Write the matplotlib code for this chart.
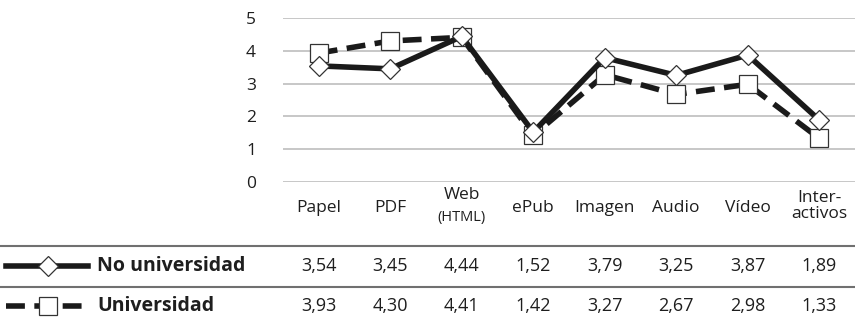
import matplotlib.pyplot as plt
from matplotlib.lines import Line2D
import numpy as np

categorias = ["Papel", "PDF", "Web", "ePub", "Imagen", "Audio", "Vídeo", "Inter-\nactivos"]
no_universidad = [3.54, 3.45, 4.44, 1.52, 3.79, 3.25, 3.87, 1.89]
universidad = [3.93, 4.30, 4.41, 1.42, 3.27, 2.67, 2.98, 1.33]
series = ["No universidad", "Universidad"]

plt.rcParams['font.family'] = ['Open Sans', 'DejaVu Sans']
W, H = 855, 321
fig = plt.figure(figsize=(W / 100, H / 100), dpi=100)

def fx(px):
    return px / W

def fy(py):
    return 1 - py / H

ax = fig.add_axes([fx(283), fy(182), fx(855) - fx(283), fy(18) - fy(182)])
x = np.arange(len(categorias))
negro = "#1a1a1a"
texto = "#1e1e1e"
guion = (0, (3.4, 1.7))

ax.plot(x, universidad, color=negro, lw=4, ls=guion, marker="s", ms=12.5,
        mfc="white", mec="#333333", mew=0.9, zorder=3)
ax.plot(x, no_universidad, color=negro, lw=4, marker="D", ms=10.5,
        mfc="white", mec="#333333", mew=0.9, zorder=4)

ax.set_xlim(-0.5, len(categorias) - 0.5)
ax.set_ylim(0, 5)
ax.set_yticks(range(6))
ax.yaxis.grid(True, color="#bdbdbd", lw=1.2)
ax.set_axisbelow(True)
ax.tick_params(axis="y", length=0, pad=23, labelsize=12.5, labelcolor=texto)
ax.set_xticks([])
for s in ax.spines.values():
    s.set_visible(False)
for lab in ax.get_yticklabels():
    lab.set_horizontalalignment("center")

def xcat(i):
    xd = ax.transData.transform((i, 0))[0]
    return fig.transFigure.inverted().transform((xd, 0))[0]

# etiquetas de categorías bajo el eje
for i, c in enumerate(categorias):
    if c == "Web":
        fig.text(xcat(i), fy(195), "Web", fontsize=12.5, color=texto, ha="center", va="center")
        fig.text(xcat(i), fy(217), "(HTML)", fontsize=10.5, color=texto, ha="center", va="center")
    elif "\n" in c:
        fig.text(xcat(i), fy(206), c, fontsize=12.5, color=texto, ha="center", va="center",
                 linespacing=0.95)
    else:
        fig.text(xcat(i), fy(208), c, fontsize=12.5, color=texto, ha="center", va="center")

# tabla de datos
for yl in (246, 287):
    fig.add_artist(Line2D([0, 1], [fy(yl), fy(yl)], color="#707070", lw=1.5))

filas = [(no_universidad, 266, "D", 10.5, "-"), (universidad, 306, "s", 12.5, guion)]
for nombre, (vals, yr, mk, ms, ls) in zip(series, filas):
    fig.add_artist(Line2D([fx(6), fx(88)], [fy(yr), fy(yr)], color=negro, lw=4, ls=ls))
    fig.add_artist(Line2D([fx(48)], [fy(yr)], marker=mk, ms=ms, mfc="white",
                          mec="#333333", mew=0.9))
    fig.text(fx(97), fy(yr), nombre, fontsize=14, fontweight="bold", color=texto,
             ha="left", va="center")
    for i, v in enumerate(vals):
        fig.text(xcat(i), fy(yr), f"{v:.2f}".replace(".", ","), fontsize=13, color=texto,
                 ha="center", va="center")

fig.savefig("out.png", dpi=100)
